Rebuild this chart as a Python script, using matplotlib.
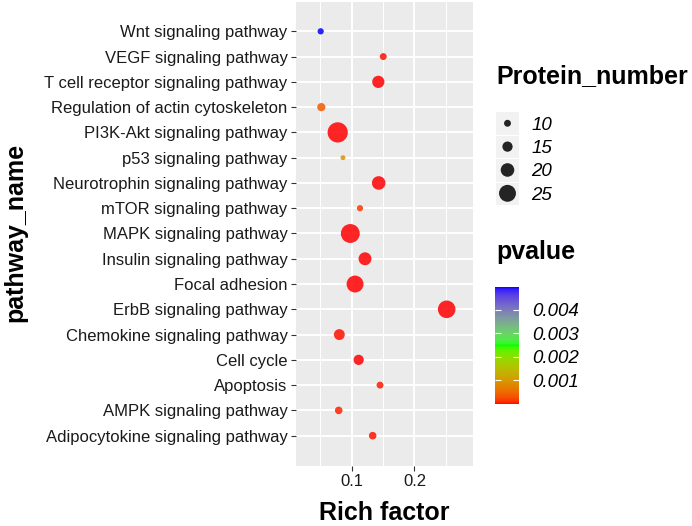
import numpy as np
import matplotlib
matplotlib.use('Agg')
import matplotlib.pyplot as plt
from matplotlib.colors import ListedColormap, Normalize
from matplotlib.cm import ScalarMappable

# data (bottom to top on the y axis)
pathways = ['Adipocytokine signaling pathway', 'AMPK signaling pathway', 'Apoptosis',
            'Cell cycle', 'Chemokine signaling pathway', 'ErbB signaling pathway',
            'Focal adhesion', 'Insulin signaling pathway', 'MAPK signaling pathway',
            'mTOR signaling pathway', 'Neurotrophin signaling pathway', 'p53 signaling pathway',
            'PI3K-Akt signaling pathway', 'Regulation of actin cytoskeleton',
            'T cell receptor signaling pathway', 'VEGF signaling pathway', 'Wnt signaling pathway']
rich_factor = [0.1334, 0.0793, 0.1451, 0.1111, 0.0803, 0.2513, 0.1053, 0.1212, 0.0978,
               0.1132, 0.1430, 0.0861, 0.0777, 0.0516, 0.1424, 0.1503, 0.0506]
protein_number = [11, 11, 10, 15, 16, 26, 25, 19, 28, 9, 20, 7, 30, 12, 18, 10, 9]
pvalue = [3e-5, 6e-5, 5e-5, 1e-5, 2e-5, 1e-9, 1e-6, 5e-6, 1e-7, 1.5e-4, 1e-6, 9e-4,
          1e-6, 3.7e-4, 1e-5, 2e-5, 4.97e-3]

size_breaks = [10, 15, 20, 25]
p_breaks = [0.001, 0.002, 0.003, 0.004]

plt.rcParams['font.family'] = ['Liberation Sans', 'DejaVu Sans']


# red -> green -> blue gradient, interpolated in Lab like ggplot does
def to_lab(rgb):
    c = np.array(rgb, float)
    c = np.where(c > 0.04045, ((c + 0.055) / 1.055) ** 2.4, c / 12.92)
    M = np.array([[0.4124, 0.3576, 0.1805], [0.2126, 0.7152, 0.0722], [0.0193, 0.1192, 0.9505]])
    xyz = M @ c / np.array([0.95047, 1.0, 1.08883])
    f = np.where(xyz > 0.008856, np.cbrt(xyz), 7.787 * xyz + 16 / 116)
    return np.array([116 * f[1] - 16, 500 * (f[0] - f[1]), 200 * (f[1] - f[2])])


def from_lab(lab):
    L, a, b = lab
    fy = (L + 16) / 116
    fx = fy + a / 500
    fz = fy - b / 200
    f = np.array([fx, fy, fz])
    xyz = np.where(f ** 3 > 0.008856, f ** 3, (f - 16 / 116) / 7.787) * np.array([0.95047, 1.0, 1.08883])
    Minv = np.array([[3.2406, -1.5372, -0.4986], [-0.9689, 1.8758, 0.0415], [0.0557, -0.2040, 1.0570]])
    c = Minv @ xyz
    c = np.where(c > 0.0031308, 1.055 * np.abs(c) ** (1 / 2.4) - 0.055, 12.92 * c)
    return np.clip(c, 0, 1)


anchors = [to_lab([1, 0, 0]), to_lab([0, 1, 0]), to_lab([0, 0, 1])]
cols = []
for t in np.linspace(0, 1, 256):
    if t <= 0.5:
        s = t * 2
        lab = anchors[0] * (1 - s) + anchors[1] * s
    else:
        s = (t - 0.5) * 2
        lab = anchors[1] * (1 - s) + anchors[2] * s
    cols.append(from_lab(lab))
cmap = ListedColormap(cols)
norm = Normalize(min(pvalue), max(pvalue))


def dot_size(v):
    # diameter in px -> marker area in pt^2 (dpi 100)
    d = 6.9 + (np.array(v, float) - 10) * 0.667
    return (d * 0.72) ** 2


W, H = 692, 526
fig = plt.figure(figsize=(W / 100, H / 100), dpi=100)

ax = fig.add_axes([296 / W, 1 - 466 / H, (473 - 296) / W, (466 - 2) / H])
ax.set_facecolor('#EBEBEB')
ypos = np.arange(len(pathways))
ax.scatter(rich_factor, ypos, s=dot_size(protein_number), c=pvalue, cmap=cmap, norm=norm,
           alpha=0.85, linewidths=0, zorder=3)
ax.set_xlim(0.0113, 0.2932)
ax.set_ylim(-1.2, 17.16)
ax.set_yticks(ypos)
ax.set_yticklabels(pathways)
ax.set_xticks([0.1, 0.2])
ax.set_xticklabels(['0.1', '0.2'])
ax.set_xticks([0.05, 0.15, 0.25], minor=True)
ax.grid(which='major', color='white', lw=1.4)
ax.grid(which='minor', axis='x', color='white', lw=0.7)
ax.set_axisbelow(True)
for sp in ax.spines.values():
    sp.set_visible(False)
ax.tick_params(which='major', length=3.5, width=0.8, color='#333333', labelsize=12,
               labelcolor='#1a1a1a', pad=2.5)
ax.tick_params(which='minor', length=0)

fig.text(15 / W, 1 - 232 / H, 'pathway_name', rotation=90, ha='center', va='center',
         fontsize=18, fontweight='bold')
fig.text(384.5 / W, 1 - 520 / H, 'Rich factor', ha='center', va='baseline',
         fontsize=18, fontweight='bold')

# size legend
fig.text(496 / W, 1 - 83.3 / H, 'Protein_number', ha='left', va='baseline',
         fontsize=18, fontweight='bold')
lax = fig.add_axes([496 / W, 1 - 205 / H, 23 / W, 93.4 / H])
lax.set_facecolor('#F2F2F2')
kpos = np.arange(len(size_breaks))
lax.scatter(np.zeros(len(size_breaks)), kpos, s=dot_size(size_breaks), color='black',
            alpha=0.85, linewidths=0)
lax.set_xlim(-0.5, 0.5)
lax.set_ylim(3.5, -0.5)
lax.set_xticks([])
lax.set_yticks(kpos)
lax.set_yticklabels([str(v) for v in size_breaks], fontsize=13.5, style='italic')
lax.yaxis.tick_right()
lax.tick_params(length=0, pad=9)
for sp in lax.spines.values():
    sp.set_visible(False)
for k in kpos[:-1]:
    lax.axhline(k + 0.5, color='white', lw=0.8)

# colour bar
fig.text(496 / W, 1 - 259 / H, 'pvalue', ha='left', va='baseline',
         fontsize=18, fontweight='bold')
cax = fig.add_axes([495 / W, 1 - 404 / H, 24.3 / W, (404 - 286.7) / H])
sm = ScalarMappable(norm=norm, cmap=cmap)
cb = fig.colorbar(sm, cax=cax)
cb.outline.set_visible(False)
cb.set_ticks(p_breaks)
cb.set_ticklabels(['%.3f' % v for v in p_breaks])
cax.tick_params(direction='in', color='white', length=4.5, width=0.8, left=True, right=True,
                labelsize=13.5, pad=9)
for lab in cax.get_yticklabels():
    lab.set_style('italic')

fig.savefig('out.png', dpi=100)
